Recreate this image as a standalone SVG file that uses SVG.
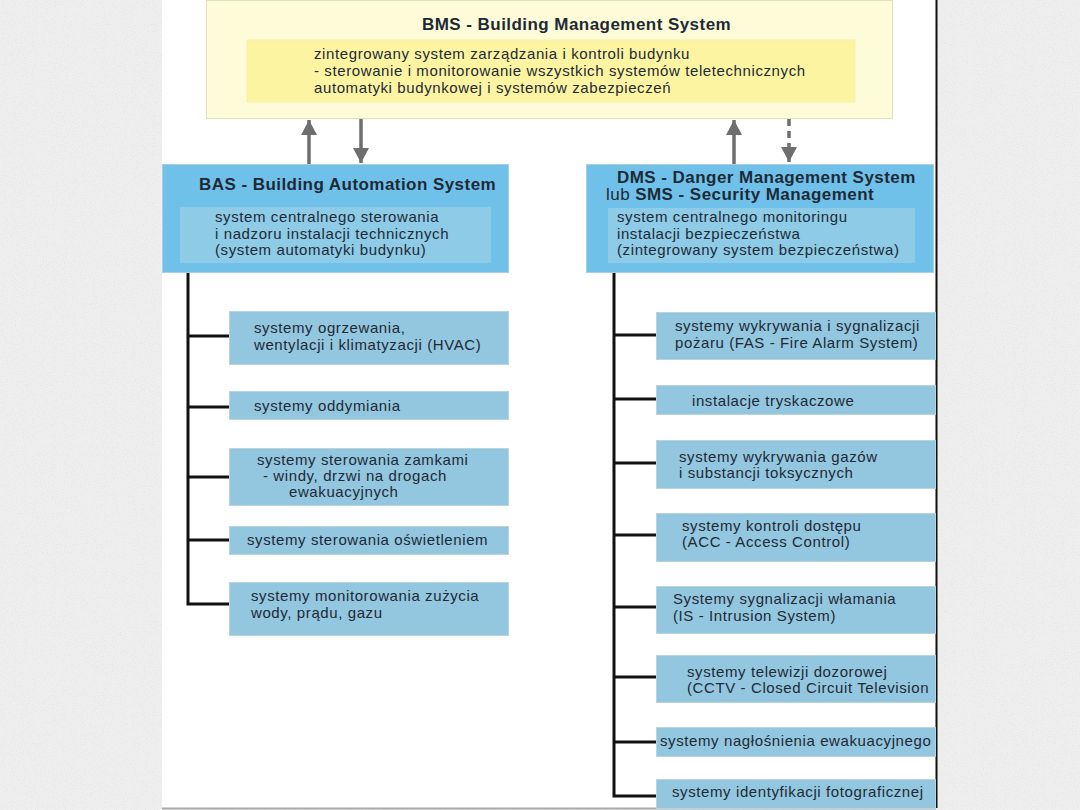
<svg xmlns="http://www.w3.org/2000/svg" width="1080" height="810" viewBox="0 0 1080 810">
<defs>
<filter id="grain" x="0" y="0" width="100%" height="100%">
<feTurbulence type="fractalNoise" baseFrequency="0.9" numOctaves="2" seed="3" result="n"/>
<feColorMatrix in="n" type="matrix" values="0 0 0 0 0.72  0 0 0 0 0.72  0 0 0 0 0.72  0 0 0 -1.4 0.75"/>
</filter>
<marker id="ah" markerUnits="userSpaceOnUse" markerWidth="18" markerHeight="16" refX="15" refY="8" orient="auto">
<path d="M0,0 L15,8 L0,16 Z" fill="#6e6e6e"/>
</marker>
<style>
.t{font-family:"Liberation Sans",Arial,sans-serif;fill:#1e2a36}
.c{font-size:15px;letter-spacing:0.6px}
.h{font-size:17px;font-weight:bold;letter-spacing:0.45px}
.child{fill:#93c6df;stroke:#b9d3df;stroke-width:1}
.main{fill:#6fc1ea;stroke:#a9cfe0;stroke-width:1}
.inner{fill:#8ecbe6}
.wire{stroke:#111;stroke-width:3;fill:none}
.arr{stroke:#6e6e6e;stroke-width:3.5;fill:none}
</style>
</defs>
<rect x="0" y="0" width="1080" height="810" fill="#efefef"/>
<rect x="0" y="0" width="1080" height="810" filter="url(#grain)"/>
<rect x="162" y="0" width="774" height="808" fill="#ffffff"/>
<line x1="936.5" y1="0" x2="936.5" y2="808" stroke="#111" stroke-width="2"/>
<line x1="162" y1="808.5" x2="936" y2="808.5" stroke="#aaaaaa" stroke-width="2"/>

<g id="bms">
<rect x="206.5" y="0.5" width="686" height="118" fill="#fefcd8" stroke="#e2e0bd" stroke-width="1"/>
<text class="t h" x="422" y="30">BMS - Building Management System</text>
<rect x="247" y="40" width="608" height="62" fill="#fdf4a2" stroke="#f4edb0" stroke-width="1"/>
<text class="t c" x="314" y="59">zintegrowany system zarządzania i kontroli budynku</text>
<text class="t c" x="314" y="76">- sterowanie i monitorowanie wszystkich systemów teletechnicznych</text>
<text class="t c" x="314" y="93">automatyki budynkowej i systemów zabezpieczeń</text>
</g>

<g id="bas">
<rect class="main" x="162.5" y="164.5" width="346" height="108"/>
<text class="t h" x="199" y="190">BAS - Building Automation System</text>
<rect class="inner" x="180" y="207" width="311" height="56"/>
<text class="t c" x="215" y="222">system centralnego sterowania</text>
<text class="t c" x="215" y="239">i nadzoru instalacji technicznych</text>
<text class="t c" x="215" y="255">(system automatyki budynku)</text>
</g>

<g id="dms">
<rect class="main" x="586.5" y="164.5" width="347" height="108"/>
<text class="t h" x="617" y="183">DMS - Danger Management System</text>
<text class="t" x="606" y="200" style="font-size:17px;letter-spacing:0.45px">lub <tspan font-weight="bold">SMS - Security Management</tspan></text>
<rect class="inner" x="608" y="208" width="307" height="55"/>
<text class="t c" x="617" y="222">system centralnego monitoringu</text>
<text class="t c" x="617" y="239">instalacji bezpieczeństwa</text>
<text class="t c" x="617" y="255">(zintegrowany system bezpieczeństwa)</text>
</g>

<g id="bas-1"><rect class="child" x="229.5" y="311.5" width="279" height="53"/>
<text class="t c" x="254" y="333">systemy ogrzewania,</text><text class="t c" x="254" y="350">wentylacji i klimatyzacji (HVAC)</text></g>
<g id="bas-2"><rect class="child" x="229.5" y="391.5" width="279" height="28"/>
<text class="t c" x="254" y="411">systemy oddymiania</text></g>
<g id="bas-3"><rect class="child" x="229.5" y="448.5" width="279" height="57"/>
<text class="t c" x="257" y="465">systemy sterowania zamkami</text><text class="t c" x="263" y="481">- windy, drzwi na drogach</text><text class="t c" x="289" y="497">ewakuacyjnych</text></g>
<g id="bas-4"><rect class="child" x="229.5" y="526.5" width="279" height="28"/>
<text class="t c" x="247" y="545">systemy sterowania oświetleniem</text></g>
<g id="bas-5"><rect class="child" x="229.5" y="582.5" width="279" height="53"/>
<text class="t c" x="251" y="601">systemy monitorowania zużycia</text><text class="t c" x="251" y="618">wody, prądu, gazu</text></g>

<g id="dms-1"><rect class="child" x="656.5" y="312.5" width="279" height="47"/>
<text class="t c" x="675" y="331">systemy wykrywania i sygnalizacji</text><text class="t c" x="675" y="348">pożaru (FAS - Fire Alarm System)</text></g>
<g id="dms-2"><rect class="child" x="656.5" y="385.5" width="279" height="29"/>
<text class="t c" x="692" y="406">instalacje tryskaczowe</text></g>
<g id="dms-3"><rect class="child" x="656.5" y="440.5" width="279" height="48"/>
<text class="t c" x="679" y="462">systemy wykrywania gazów</text><text class="t c" x="679" y="478">i substancji toksycznych</text></g>
<g id="dms-4"><rect class="child" x="656.5" y="513.5" width="279" height="48"/>
<text class="t c" x="682" y="531">systemy kontroli dostępu</text><text class="t c" x="682" y="547">(ACC - Access Control)</text></g>
<g id="dms-5"><rect class="child" x="656.5" y="586.5" width="279" height="47"/>
<text class="t c" x="673" y="604">Systemy sygnalizacji włamania</text><text class="t c" x="673" y="621">(IS - Intrusion System)</text></g>
<g id="dms-6"><rect class="child" x="656.5" y="655.5" width="279" height="47"/>
<text class="t c" x="687" y="677">systemy telewizji dozorowej</text><text class="t c" x="687" y="693">(CCTV - Closed Circuit Television</text></g>
<g id="dms-7"><rect class="child" x="656.5" y="727.5" width="279" height="29"/>
<text class="t c" x="660" y="746">systemy nagłośnienia ewakuacyjnego</text></g>
<g id="dms-8"><rect class="child" x="656.5" y="779.5" width="279" height="29"/>
<text class="t c" x="672" y="797">systemy identyfikacji fotograficznej</text></g>

<g id="connectors">
<line class="arr" x1="309" y1="164" x2="309" y2="120" marker-end="url(#ah)"/>
<line class="arr" x1="361" y1="119" x2="361" y2="163" marker-end="url(#ah)"/>
<line class="arr" x1="734" y1="164" x2="734" y2="120" marker-end="url(#ah)"/>
<line class="arr" x1="789" y1="119" x2="789" y2="162" stroke-dasharray="7,5" marker-end="url(#ah)"/>
<path class="wire" d="M188,273 V604 H229 M188,336 H229 M188,407 H229 M188,477 H229 M188,540 H229"/>
<path class="wire" d="M614,273 V796 H656 M614,335 H656 M614,399 H656 M614,463 H656 M614,535 H656 M614,607 H656 M614,677 H656 M614,742 H656"/>
</g>
</svg>
